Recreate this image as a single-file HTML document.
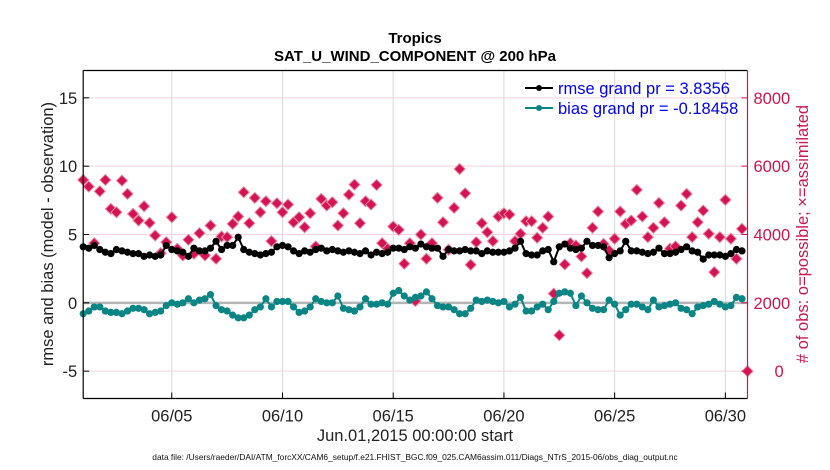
<!DOCTYPE html>
<html><head><meta charset="utf-8"><style>
html,body{margin:0;padding:0;background:#fff;}
svg{display:block;font-family:"Liberation Sans",Arial,sans-serif;}
</style></head><body>
<svg id="chart" width="830" height="470" viewBox="0 0 830 470">
<text x="415" y="43" text-anchor="middle" font-size="15" font-weight="bold">Tropics</text>
<text x="415" y="61" text-anchor="middle" font-size="15" font-weight="bold">SAT_U_WIND_COMPONENT @ 200 hPa</text>
<g id="grid"></g>
<g id="marks"></g>
<g id="axes"></g>
<text transform="translate(53,234) rotate(-90)" text-anchor="middle" font-size="16.5" fill="#222">rmse and bias (model - observation)</text>
<text transform="translate(808,234) rotate(-90)" text-anchor="middle" font-size="16.5" fill="#cc1650"># of obs: o=possible; ×=assimilated</text>
<text x="415" y="441" text-anchor="middle" font-size="16.5" fill="#222">Jun.01,2015 00:00:00 start</text>
<text x="415" y="460" text-anchor="middle" font-size="8.4" fill="#111">data file: /Users/raeder/DAI/ATM_forcXX/CAM6_setup/f.e21.FHIST_BGC.f09_025.CAM6assim.011/Diags_NTrS_2015-06/obs_diag_output.nc</text>
<g>
<line x1="525" y1="88" x2="553" y2="88" stroke="#000" stroke-width="2"/><circle cx="539" cy="88" r="3" fill="#000"/>
<text x="558" y="94" font-size="16.5" fill="#0000ee">rmse grand pr = 3.8356</text>
<line x1="525" y1="108" x2="553" y2="108" stroke="#0a8585" stroke-width="2"/><circle cx="539" cy="108" r="3" fill="#0a8585"/>
<text x="558" y="114" font-size="16.5" fill="#0000ee">bias grand pr = -0.18458</text>
</g>
</svg>
<script>
const rmse=[4.1,4.0,4.2,3.9,3.7,3.6,3.9,3.8,3.7,3.6,3.6,3.4,3.5,3.4,3.5,4.2,3.9,3.8,3.7,3.4,4.0,3.8,3.8,4.0,4.5,3.9,4.2,4.2,4.8,3.9,3.7,3.6,3.5,3.6,3.7,4.1,4.2,4.1,3.8,3.6,3.8,3.7,3.9,4.0,
3.8,3.9,3.8,3.7,3.8,3.7,3.6,3.8,3.5,3.7,3.6,3.7,4.0,4.0,3.9,4.1,4.0,4.3,4.1,4.0,4.0,3.4,3.9,3.8,3.8,3.9,3.8,3.8,3.6,3.8,3.7,3.7,3.7,3.8,4.0,4.5,3.6,
3.5,3.5,3.8,3.9,3.0,4.1,4.3,4.0,3.9,4.0,4.5,4.2,4.2,4.1,3.3,3.6,3.8,4.5,3.8,3.8,3.7,3.6,3.7,4.0,3.6,3.6,3.7,3.9,4.1,3.8,3.7,3.2,3.5,3.5,3.5,3.4,3.6,3.9,3.8];
const bias=[-0.8,-0.6,-0.3,-0.3,-0.6,-0.7,-0.7,-0.8,-0.6,-0.4,-0.4,-0.5,-0.8,-0.7,-0.6,-0.2,0.0,-0.1,0.0,0.3,0.0,0.2,0.3,0.6,-0.2,-0.5,-0.6,-0.9,-1.1,-1.1,-0.9,-0.5,-0.3,0.3,-0.3,0.1,0.1,0.1,-0.3,-0.7,-0.6,-0.3,0.3,0.1,
0.0,0.0,0.5,-0.4,-0.5,-0.6,-0.3,0.3,-0.1,-0.1,0.0,-0.1,0.7,0.9,0.5,0.2,0.4,0.5,0.8,0.3,-0.2,-0.3,-0.3,-0.5,-0.8,-0.8,-0.4,0.2,0.1,0.2,0.1,0.0,0.1,-0.3,-0.1,0.4,-0.6,
-0.6,-0.3,-0.1,-0.5,0.1,0.7,0.8,0.7,-0.2,0.5,0.0,-0.4,-0.5,-0.5,0.2,-0.1,-0.9,-0.5,-0.1,-0.1,-0.3,-0.5,0.2,-0.3,-0.2,-0.1,0.0,-0.4,-0.5,-0.8,-0.3,-0.2,-0.1,0.1,-0.1,-0.3,-0.2,0.4,0.3];
const nobs=[5597,5402,3746,5265,5597,4750,4652,5577,5188,4604,4409,4827,4341,3971,3454,3775,4505,3583,3387,3845,3437,4038,3387,4263,3290,3942,3922,4312,4526,5236,4331,5072,4652,4973,3805,4914,4652,4876,4359,4505,4213,4622,3650,5043,
4847,4943,4263,4622,5168,5460,4331,4973,4876,5451,3746,3583,4234,4137,3144,3746,2053,4000,3290,3746,5072,4359,3553,4779,5918,5206,3115,3775,4331,4067,3805,4526,4622,4584,3805,4021,4389,
4389,3904,4196,4526,2269,1051,3124,3746,3679,3358,2870,4196,4672,3728,3533,3875,4672,4312,4409,5305,4526,3922,4196,4926,4359,3583,3650,4847,5188,3922,4359,4701,4021,2899,3922,5013,3875,3290,4166,0];
const yTicks=[-5,0,5,10,15];
const y2Ticks=[0,2000,4000,6000,8000];
const xTickDays=[4,9,14,19,24,29];
const xTickLabels=["06/05","06/10","06/15","06/20","06/25","06/30"];
const stepDays=0.25;

const L=83.2,R=747.5,T=70.5,B=398.5;
const xDom=[0,30], yDom=[-7,17];
const xs=d=>L+(d-xDom[0])/(xDom[1]-xDom[0])*(R-L);
const ys=v=>B-(v-yDom[0])/(yDom[1]-yDom[0])*(B-T);
const y2s=v=>ys((v-2000)/400);
const NS='http://www.w3.org/2000/svg';
function mk(parent,tag,attrs){const e=document.createElementNS(NS,tag);for(const k in attrs)e.setAttribute(k,attrs[k]);parent.appendChild(e);return e;}
const grid=document.getElementById('grid'),marks=document.getElementById('marks'),axes=document.getElementById('axes');

xTickDays.forEach((d,i)=>{
  const g=mk(grid,'line',{x1:xs(d),x2:xs(d),y1:T,y2:B,stroke:'#d9d9d9','stroke-width':1});
  
  
  const t=mk(axes,'line',{x1:xs(d),x2:xs(d),y1:B,y2:B-6,stroke:'#000'});
  
  
  const tx=mk(axes,'text',{x:xs(d),y:B+23,'text-anchor':'middle','font-size':16.5,fill:'#222'});
  tx.textContent=xTickLabels[i];
  
  
});
y2Ticks.forEach(v=>{
  const g=mk(grid,'line',{x1:L,x2:R,y1:y2s(v),y2:y2s(v),stroke:'#f3d3dd','stroke-width':1});
  
  
  const t=mk(axes,'line',{x1:R-6,x2:R,y1:y2s(v),y2:y2s(v),stroke:'#cc1650'});
  
  
  const tx=mk(axes,'text',{x:v===0?R+27:R+6,y:y2s(v)+6,'text-anchor':'start','font-size':16.5,fill:'#cc1650'});
  tx.textContent=String(v);
  
  
});
yTicks.forEach(v=>{
  const t=mk(axes,'line',{x1:L,x2:L+6,y1:ys(v),y2:ys(v),stroke:'#000'});
  
  
  const tx=mk(axes,'text',{x:L-6,y:ys(v)+6,'text-anchor':'end','font-size':16.5,fill:'#222'});
  tx.textContent=String(v);
  
  
});
const zl=mk(grid,'line',{x1:L,x2:R,y1:ys(0),y2:ys(0),stroke:'#b5b5b5','stroke-width':2.5});



nobs.forEach((v,i)=>{
  const x=xs(i*stepDays),y=y2s(v),s=5.5;
  const p=mk(marks,'polygon',{points:`${x},${y-s} ${x+s},${y} ${x},${y+s} ${x-s},${y}`,fill:'#d41352',stroke:'#e88aa8','stroke-width':1,'stroke-linejoin':'round'});
  
  
});
function series(arr,color,name){
  const pts=arr.map((v,i)=>xs(i*stepDays)+','+ys(v)).join(' ');
  const pl=mk(marks,'polyline',{points:pts,fill:'none',stroke:color,'stroke-width':2});
  
  
  arr.forEach((v,i)=>{
    const c=mk(marks,'circle',{cx:xs(i*stepDays),cy:ys(v),r:3.6,fill:color});
    
    
  });
}
series(rmse,'#000','rmse');
series(bias,'#0a8585','bias');

const fr=[['top',L,T,R,T,'#000'],['left',L,T,L,B,'#000'],['bottom',L,B,R,B,'#000'],['right',R,T,R,B,'#cc1650']];
fr.forEach(f=>{
  const l=mk(axes,'line',{x1:f[1],y1:f[2],x2:f[3],y2:f[4],stroke:f[5],'stroke-width':1.2});
  
  
});
</script>
</body></html>
